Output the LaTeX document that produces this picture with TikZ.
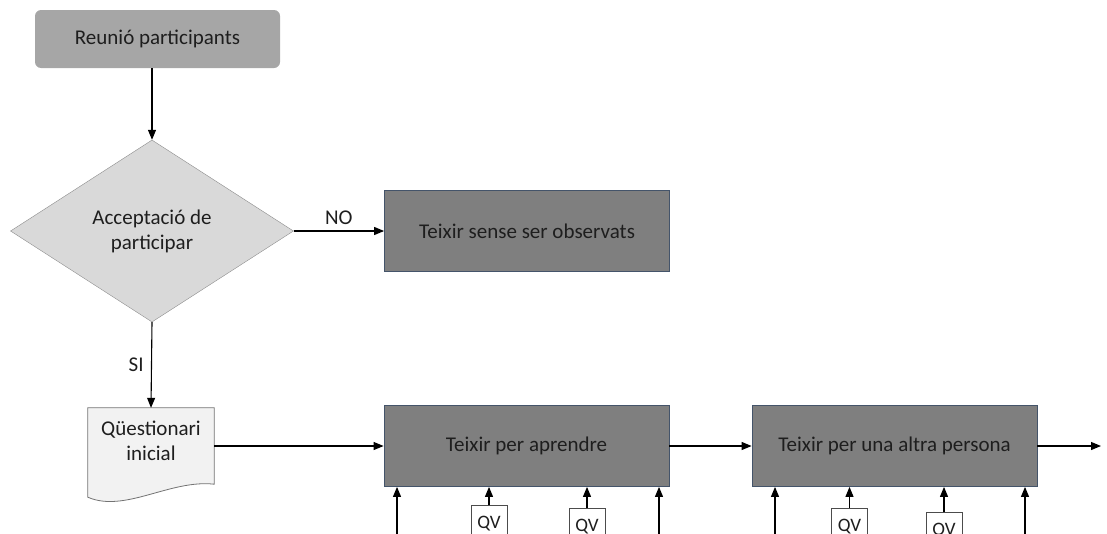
\documentclass[tikz,border=0pt]{standalone}
\usepackage{fontspec}
\setmainfont{Carlito}
\usetikzlibrary{shapes.geometric, arrows.meta, positioning, calc}
\definecolor{lightbox}{HTML}{A6A6A6}
\definecolor{diamondgray}{HTML}{D9D9D9}
\definecolor{darkbox}{HTML}{7F7F7F}
\definecolor{slateedge}{HTML}{44546A}
\definecolor{docgray}{HTML}{F2F2F2}
\definecolor{inkgray}{HTML}{1E1E1E}

\begin{document}
\begin{tikzpicture}[x=1pt, y=-1pt, font=\fontsize{21pt}{25pt}\selectfont, text=inkgray,
    flow/.style={-{Triangle[length=10pt, width=8pt]}, line width=1.1pt},
    stagebox/.style={draw=slateedge, line width=0.8pt, fill=darkbox, minimum width=285pt, minimum height=81pt},
    qvbox/.style={draw=black!70, fill=white, line width=0.9pt, minimum width=36pt, minimum height=36pt, inner sep=1pt, font=\fontsize{19pt}{21pt}\selectfont}]
    \useasboundingbox (0,0) rectangle (1107,533);
    \clip (0,0) rectangle (1107,533);

    % start and decision
    \node[fill=lightbox, rounded corners=6pt, minimum width=245pt, minimum height=58pt] (reunio) at (157.5,39) {Reunió participants};
    \node[diamond, draw=black!45, fill=diamondgray, minimum width=283pt, minimum height=182pt, inner sep=0pt, align=center] (accept) at (152,231) {Acceptació de\\participar};
    \node[stagebox] (noobs) at (527,231) {Teixir sense ser observats};

    % questionnaire (document shape)
    \node[minimum width=126pt, minimum height=76pt, align=center] (questionari) at (151,446) {};
    \draw[draw=black!55, fill=docgray, line width=0.8pt] (questionari.north west) -- (questionari.north east) -- (questionari.south east)
        .. controls +(-44,-5) and +(37,16) .. ($(questionari.south west)+(0,13)$) -- cycle;
    \node[align=center] at ([yshift=5pt]questionari.center) {Qüestionari\\inicial};

    % weaving stages
    \node[stagebox] (aprendre) at (526.5,446) {Teixir per aprendre};
    \node[stagebox] (altra) at (894.5,446) {Teixir per una altra persona};
    \coordinate (out) at (1101,446);

    \node[qvbox, anchor=north] (qv1) at (489,505) {QV};
    \node[qvbox, anchor=north] (qv2) at (587,508) {QV};
    \node[qvbox, anchor=north] (qv3) at (849.5,508) {QV};
    \node[qvbox, anchor=north] (qv4) at (944,512) {QV};
    \coordinate (b1) at (397,540);
    \coordinate (b2) at (659,540);
    \coordinate (b3) at (775,540);
    \coordinate (b4) at (1025,540);

    % connectors
    \draw[flow] (accept.north |- reunio.south) -- (accept.north);
    \draw[flow] (accept.east) -- node[midway, above=2pt] {NO} (noobs.west);
    \draw[flow] (accept.south) -- node[midway, left=4pt] {SI} (questionari.north);
    \draw[flow] (questionari.east) -- (aprendre.west);
    \draw[flow] (aprendre.east) -- (altra.west);
    \draw[flow] (altra.east) -- (out);
    \foreach \q in {qv1, qv2} \draw[flow] (\q.north) -- (\q.north |- aprendre.south);
    \foreach \q in {qv3, qv4} \draw[flow] (\q.north) -- (\q.north |- altra.south);
    \foreach \b in {b1, b2} \draw[flow] (\b) -- (\b |- aprendre.south);
    \foreach \b in {b3, b4} \draw[flow] (\b) -- (\b |- altra.south);
\end{tikzpicture}
\end{document}
